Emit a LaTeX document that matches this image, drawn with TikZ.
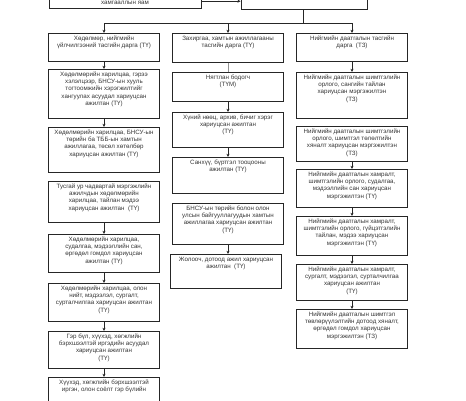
\documentclass[tikz,border=0pt]{standalone}
\usepackage{fontspec}
\setmainfont{Liberation Sans}
\usetikzlibrary{arrows.meta}
\definecolor{linec}{HTML}{262626}
\definecolor{textc}{HTML}{363636}
\newcommand\tb[2]{\parbox[t][#1][t]{109pt}{\centering\fontsize{6.2}{7.2}\selectfont\vspace*{2.5pt}#2\par}}
\tikzset{
  bx/.style={draw=linec, line width=0.75pt, inner sep=0pt, minimum width=111pt, text=textc, anchor=north},
  txt/.style={inner sep=0pt, text=textc, font=\fontsize{6.2}{7.2}\selectfont},
  arr/.style={draw=linec, line width=0.6pt, -{Stealth[length=3.2pt,width=3pt]}},
  ln/.style={draw=linec, line width=0.6pt}
}
\begin{document}
\begin{tikzpicture}[x=1pt,y=1pt]
\useasboundingbox (0,0) rectangle (466,-400);
\clip (0,0) rectangle (466,-400);
\fill[white] (0,0) rectangle (466,-400);
% top boxes
\node[bx, anchor=south, minimum width=152pt, minimum height=30pt] (T1) at (125,-9) {};
\node[txt] (T1t) at (125,-3.3) {хамгааллын яам};
\node[bx, anchor=south, minimum width=126pt, minimum height=30pt] (T2) at (304,-10) {};
\draw[arr] (T1.east |- 0,-1.2) -- (T2.west |- 0,-1.2);
% left column
\node[bx] (L1) at (104,-33) {\tb{28pt}{Хөдөлмөр, нийгмийн\\үйлчилгээний тасгийн дарга (ТҮ)}};
\node[bx] (L2) at (104,-69) {\tb{49pt}{Хөдөлмөрийн харилцаа, гэрээ\\хэлэлцээр, БНСУ-ын хууль\\тогтоомжийн хэрэгжилтийг\\хангуулах асуудал хариуцсан\\ажилтан (ТҮ)}};
\node[bx] (L3) at (104,-127) {\tb{45pt}{Хөдөлмөрийн харилцаа, БНСУ-ын\\төрийн ба ТББ-ын хамтын\\ажиллагаа, төсөл хөтөлбөр\\хариуцсан ажилтан (ТҮ)}};
\node[bx] (L4) at (104,-181) {\tb{41pt}{Тусгай ур чадвартай мэргэжлийн\\ажилчдын хөдөлмөрийн\\харилцаа, тайлан мэдээ\\хариуцсан ажилтан\ \ (ТҮ)}};
\node[bx] (L5) at (104,-234) {\tb{38pt}{Хөдөлмөрийн харилцаа,\\судалгаа, мэдээллийн сан,\\өргөдөл гомдол хариуцсан\\ажилтан (ТҮ)}};
\node[bx] (L6) at (104,-283) {\tb{38pt}{Хөдөлмөрийн харилцаа, олон\\нийт, мэдээлэл, сургалт,\\сурталчилгаа хариуцсан ажилтан\\(ТҮ)}};
\node[bx] (L7) at (104,-331) {\tb{37pt}{Гэр бүл, хүүхэд, хөгжлийн\\бэрхшээлтэй иргэдийн асуудал\\хариуцсан ажилтан\\(ТҮ)}};
\node[bx] (L8) at (104,-377) {\tb{38pt}{Хүүхэд, хөгжлийн бэрхшээлтэй\\иргэн, олон соёлт гэр бүлийн}};
% middle column
\node[bx] (M1) at (228,-33) {\tb{29pt}{Захиргаа, хамтын ажиллагааны\\тасгийн дарга (ТҮ)}};
\node[bx] (M2) at (228,-72) {\tb{29pt}{Нягтлан бодогч\\(ТҮМ)}};
\node[bx] (M3) at (228,-112) {\tb{35pt}{Хүний нөөц, архив, бичиг хэрэг\\хариуцсан ажилтан\\(ТҮ)}};
\node[bx] (M4) at (228,-157) {\tb{36pt}{Санхүү, бүртгэл тооцооны\\ажилтан (ТҮ)}};
\node[bx] (M5) at (228,-203) {\tb{41pt}{БНСУ-ын төрийн болон олон\\улсын байгууллагуудын хамтын\\ажиллагаа хариуцсан ажилтан\\(ТҮ)}};
\node[bx] (M6) at (226,-254) {\tb{34pt}{Жолооч, дотоод ажил хариуцсан\\ажилтан\ \ (ТҮ)}};
% right column
\node[bx] (R1) at (352,-33) {\tb{28pt}{Нийгмийн даатгалын тасгийн\\дарга\ \ (ТЗ)}};
\node[bx] (R2) at (352,-72) {\tb{46pt}{Нийгмийн даатгалын шимтгэлийн\\орлого, сангийн тайлан\\хариуцсан мэргэжилтэн\\(ТЗ)}};
\node[bx] (R3) at (352,-126) {\tb{35pt}{Нийгмийн даатгалын шимтгэлийн\\орлого, шимтгэл төлөлтийн\\хяналт хариуцсан мэргэжилтэн\\(ТЗ)}};
\node[bx] (R4) at (352,-169) {\tb{38pt}{Нийгмийн даатгалын хамралт,\\шимтгэлийн орлого, судалгаа,\\мэдээллийн сан хариуцсан\\мэргэжилтэн (ТҮ)}};
\node[bx] (R5) at (352,-216) {\tb{39pt}{Нийгмийн даатгалын хамралт,\\шимтгэлийн орлого, гүйцэтгэлийн\\тайлан, мэдээ хариуцсан\\мэргэжилтэн (ТҮ)}};
\node[bx] (R6) at (352,-264) {\tb{36pt}{Нийгмийн даатгалын хамралт,\\сургалт, мэдээлэл, сурталчилгаа\\хариуцсан ажилтан\\(ТҮ)}};
\node[bx] (R7) at (352,-309) {\tb{39pt}{Нийгмийн даатгалын шимтгэл\\төвлөрүүлэлтийн дотоод хяналт,\\өргөдөл гомдол хариуцсан\\мэргэжилтэн (ТЗ)}};
% distribution connector
\coordinate (J) at (303,-23);
\draw[ln] (T2.south -| J) -- (J);
\draw[arr] (J) -| (L1.north);
\draw[arr] (J) -| (M1.north);
\draw[arr] (J) -| (R1.north);
% column arrows
\draw[arr] (L1) -- (L2);
\draw[arr] (L2) -- (L3);
\draw[arr] (L4) -- (L5);
\draw[arr] (L5) -- (L6);
\draw[arr] (L6) -- (L7);
\draw[arr] (L7) -- (L8);
\draw[ln, draw=linec!50] (M1) -- (M2);
\draw[arr] (M2) -- (M3);
\draw[arr] (M3) -- (M4);
\draw[arr] (M5.south) -- (M6.north -| M5.south);
\draw[arr] (R1) -- (R2);
\draw[arr] (R3) -- (R4);
\draw[arr] (R4) -- (R5);
\draw[arr] (R5) -- (R6);
\draw[arr] (R6) -- (R7);
\end{tikzpicture}
\end{document}
